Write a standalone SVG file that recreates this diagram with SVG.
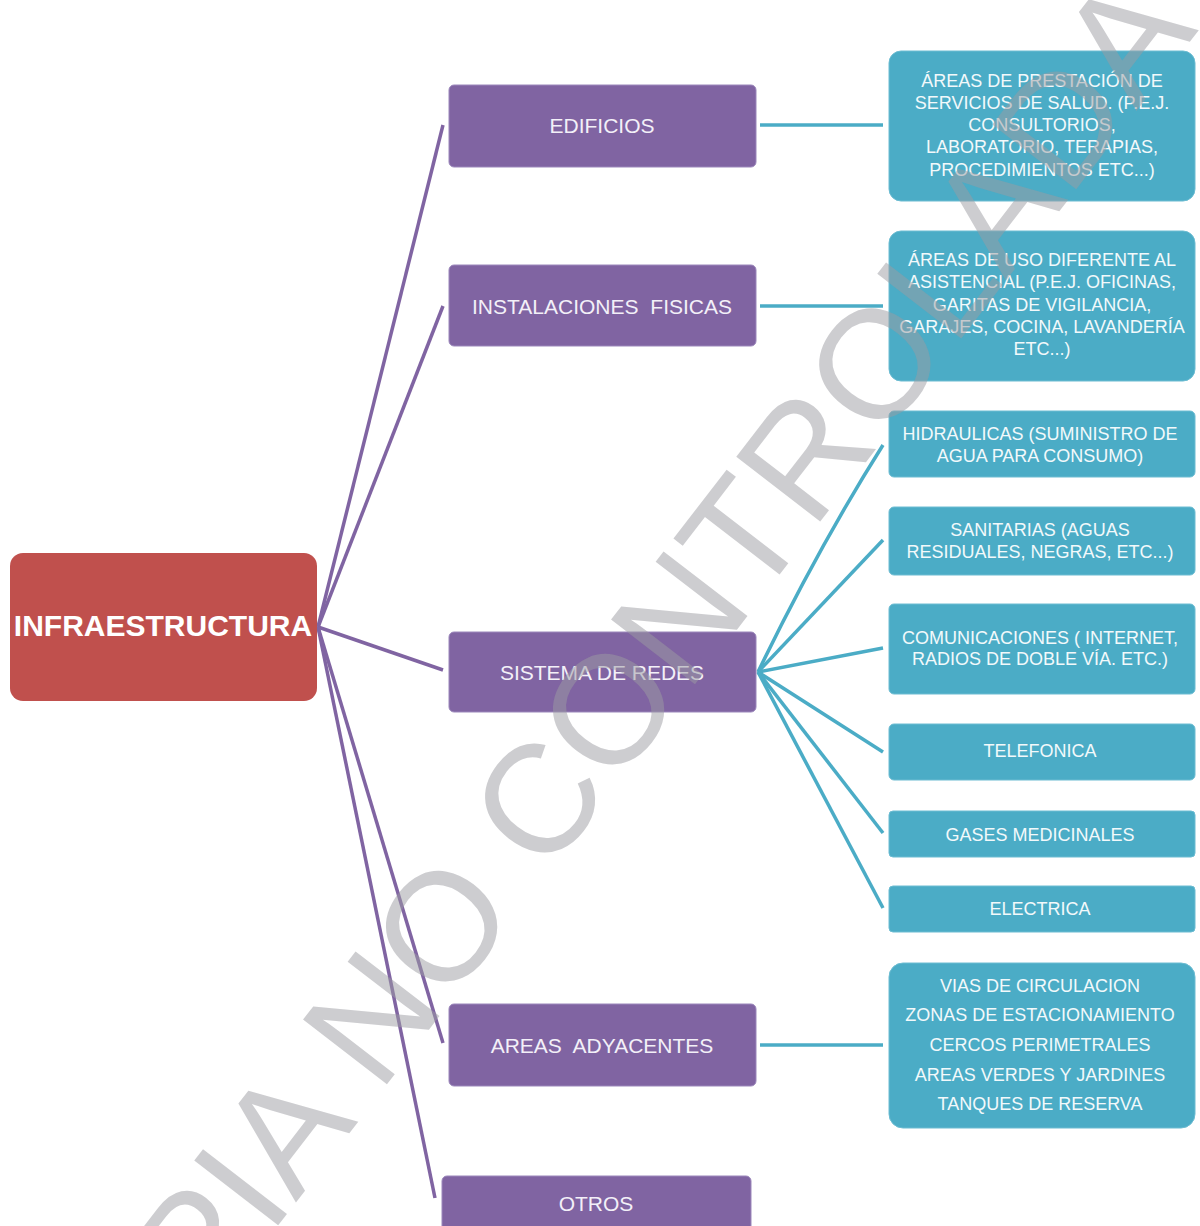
<svg xmlns="http://www.w3.org/2000/svg" width="1200" height="1226" viewBox="0 0 1200 1226">
<style>
.root{fill:#c0504d;}
.l1{fill:#8064a2;stroke:#9b87bb;stroke-width:1;}
.l2{fill:#4bacc6;stroke:#6cbcd2;stroke-width:1;}
.t1{font-family:"Liberation Sans",Arial,sans-serif;font-size:21px;fill:#f3f0f8;text-anchor:middle;}
.t2{font-family:"Liberation Sans",Arial,sans-serif;font-size:18px;fill:#f2f9fb;text-anchor:middle;}
.tr{font-family:"Liberation Sans",Arial,sans-serif;font-size:30px;font-weight:bold;fill:#ffffff;text-anchor:middle;}
.cp{stroke:#8064a2;stroke-width:3.5;fill:none;}
.ct{stroke:#4bacc6;stroke-width:3.5;fill:none;}
.wm{font-family:"Liberation Sans",Arial,sans-serif;font-size:154px;fill:#9c9ca2;fill-opacity:0.5;}
</style>
<rect width="1200" height="1226" fill="#ffffff"/>
<g id="connectors">
<line class="cp" x1="318" y1="627" x2="443" y2="125"/>
<line class="cp" x1="318" y1="627" x2="443" y2="306"/>
<line class="cp" x1="318" y1="627" x2="443" y2="670"/>
<line class="cp" x1="318" y1="627" x2="443" y2="1043"/>
<line class="cp" x1="318" y1="627" x2="435" y2="1198"/>
<line class="ct" x1="760" y1="125" x2="883" y2="125"/>
<line class="ct" x1="760" y1="306" x2="883" y2="306"/>
<line class="ct" x1="760" y1="1045" x2="883" y2="1045"/>
<path class="ct" d="M758 672 Q818 548 883 445"/>
<line class="ct" x1="758" y1="672" x2="883" y2="540"/>
<line class="ct" x1="758" y1="672" x2="883" y2="648"/>
<line class="ct" x1="758" y1="672" x2="883" y2="752"/>
<line class="ct" x1="758" y1="672" x2="883" y2="833"/>
<line class="ct" x1="758" y1="672" x2="883" y2="908"/>
</g>
<g id="infraestructura">
<rect class="root" x="10" y="553" width="307" height="148" rx="13"/>
<text class="tr" x="163" y="636">INFRAESTRUCTURA</text>
</g>
<g id="edificios">
<rect class="l1" x="449" y="85" width="307" height="82" rx="5"/>
<text class="t1" x="602" y="132.5">EDIFICIOS</text>
</g>
<g id="instalaciones">
<rect class="l1" x="449" y="265" width="307" height="81" rx="5"/>
<text class="t1" x="602" y="313.5" word-spacing="6">INSTALACIONES FISICAS</text>
</g>
<g id="sistema">
<rect class="l1" x="449" y="632" width="307" height="80" rx="5"/>
<text class="t1" x="602" y="679.5">SISTEMA DE REDES</text>
</g>
<g id="areas">
<rect class="l1" x="449" y="1004" width="307" height="82" rx="5"/>
<text class="t1" x="602" y="1052.5" word-spacing="6">AREAS ADYACENTES</text>
</g>
<g id="otros">
<rect class="l1" x="442" y="1176" width="309" height="60" rx="5"/>
<text class="t1" x="596" y="1210.5">OTROS</text>
</g>
<g id="prestacion">
<rect class="l2" x="889" y="51" width="306" height="150" rx="12"/>
<text class="t2"><tspan x="1042" y="86.5">ÁREAS DE PRESTACIÓN DE</tspan><tspan x="1042" y="108.5">SERVICIOS DE SALUD. (P.E.J.</tspan><tspan x="1042" y="131">CONSULTORIOS,</tspan><tspan x="1042" y="153">LABORATORIO, TERAPIAS,</tspan><tspan x="1042" y="175.5">PROCEDIMIENTOS ETC...)</tspan></text>
</g>
<g id="uso-diferente">
<rect class="l2" x="889" y="231" width="306" height="150" rx="12"/>
<text class="t2"><tspan x="1042" y="265.5">ÁREAS DE USO DIFERENTE AL</tspan><tspan x="1042" y="287.5">ASISTENCIAL (P.E.J. OFICINAS,</tspan><tspan x="1042" y="310.5">GARITAS DE VIGILANCIA,</tspan><tspan x="1042" y="332.5">GARAJES, COCINA, LAVANDERÍA</tspan><tspan x="1042" y="354.5">ETC...)</tspan></text>
</g>
<g id="hidraulicas">
<rect class="l2" x="889" y="411" width="306" height="66" rx="5"/>
<text class="t2"><tspan x="1040" y="439.5">HIDRAULICAS (SUMINISTRO DE</tspan><tspan x="1040" y="461.5">AGUA PARA CONSUMO)</tspan></text>
</g>
<g id="sanitarias">
<rect class="l2" x="889" y="507" width="306" height="68" rx="5"/>
<text class="t2"><tspan x="1040" y="535.5">SANITARIAS (AGUAS</tspan><tspan x="1040" y="557.5">RESIDUALES, NEGRAS, ETC...)</tspan></text>
</g>
<g id="comunicaciones">
<rect class="l2" x="889" y="604" width="306" height="90" rx="5"/>
<text class="t2"><tspan x="1040" y="643.5">COMUNICACIONES ( INTERNET,</tspan><tspan x="1040" y="664.5">RADIOS DE DOBLE VÍA. ETC.)</tspan></text>
</g>
<g id="telefonica">
<rect class="l2" x="889" y="724" width="306" height="56" rx="5"/>
<text class="t2" x="1040" y="756.5">TELEFONICA</text>
</g>
<g id="gases">
<rect class="l2" x="889" y="811" width="306" height="46" rx="4"/>
<text class="t2" x="1040" y="840.5">GASES MEDICINALES</text>
</g>
<g id="electrica">
<rect class="l2" x="889" y="886" width="306" height="46" rx="4"/>
<text class="t2" x="1040" y="914.5">ELECTRICA</text>
</g>
<g id="vias">
<rect class="l2" x="889" y="963" width="306" height="165" rx="14"/>
<text class="t2"><tspan x="1040" y="991.5">VIAS DE CIRCULACION</tspan><tspan x="1040" y="1020.5">ZONAS DE ESTACIONAMIENTO</tspan><tspan x="1040" y="1050.5">CERCOS PERIMETRALES</tspan><tspan x="1040" y="1080.5">AREAS VERDES Y JARDINES</tspan><tspan x="1040" y="1109.5">TANQUES DE RESERVA</tspan></text>
</g>
<text class="wm" transform="translate(66,1501) rotate(-52.4)" x="0" y="0">COPIA NO CONTROLADA</text>
</svg>
